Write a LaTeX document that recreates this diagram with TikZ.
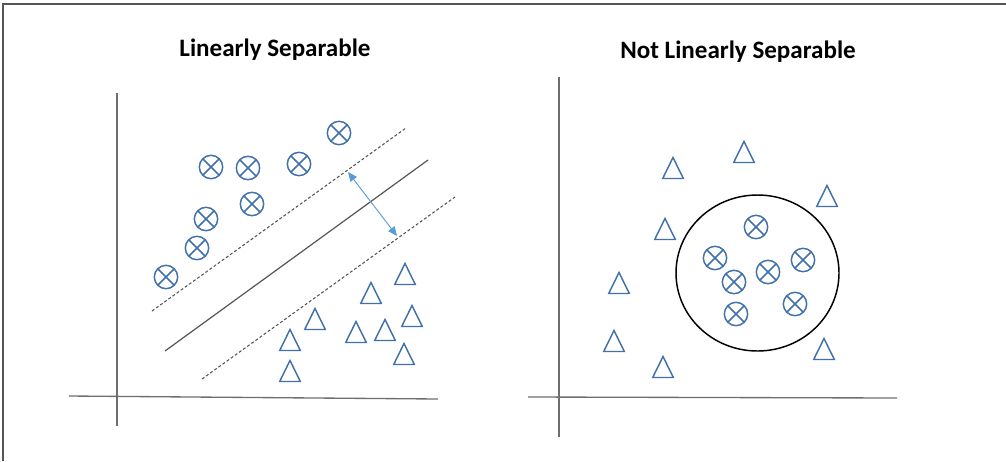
\documentclass[tikz,border=0pt]{standalone}
\usepackage{fontspec}
\setmainfont{Carlito}
\usetikzlibrary{arrows.meta,shapes.geometric}
\definecolor{symblue}{RGB}{65,113,170}
\definecolor{arrblue}{RGB}{91,155,213}
\definecolor{axisgray}{RGB}{110,110,110}
\definecolor{sepgray}{RGB}{85,85,85}
\tikzset{
  xc/.style={circle, draw=symblue, line width=1.1pt, minimum size=17.5pt, inner sep=0pt,
    path picture={\draw[symblue, line width=1.1pt]
      (path picture bounding box.north east) -- (path picture bounding box.south west)
      (path picture bounding box.north west) -- (path picture bounding box.south east);}},
  tri/.pic={\draw[symblue, line width=1.1pt, line join=miter] (0,-10.5) -- (10.3,10.5) -- (-10.3,10.5) -- cycle;},
  axisline/.style={axisgray, line width=1pt},
  sepline/.style={sepgray, line width=0.9pt},
  marginline/.style={sepgray, line width=0.8pt, dash pattern=on 2.2pt off 1.6pt},
  title/.style={font=\bfseries\fontsize{18.8pt}{22pt}\selectfont, inner sep=0pt}
}
\begin{document}
\begin{tikzpicture}[x=0.75pt, y=-0.75pt]
\useasboundingbox (0,0) rectangle (1006,461);
% frame
\draw[sepgray, line width=1.1pt] (1006,4) -- (3,4) -- (3,461);
% titles
\node[title] (t1) at (275,50) {Linearly Separable};
\node[title] (t2) at (738,52) {Not Linearly Separable};
% left axes
\coordinate (ly0) at (117,93);  \coordinate (ly1) at (117,426);
\coordinate (lx0) at (69,396);  \coordinate (lx1) at (438,399);
\draw[axisline] (ly0) -- (ly1);
\draw[axisline] (lx0) -- (lx1);
% separator and margins
\coordinate (s0) at (165,351); \coordinate (s1) at (428,160);
\coordinate (u0) at (152,311); \coordinate (u1) at (406,128);
\coordinate (d0) at (202,379); \coordinate (d1) at (455,197);
\draw[sepline] (s0) -- (s1);
\draw[marginline] (u0) -- (u1);
\draw[marginline] (d0) -- (d1);
\coordinate (a0) at (348,172); \coordinate (a1) at (397,236);
\draw[arrblue, line width=0.7pt, {Triangle[length=7pt,width=6pt]}-{Triangle[length=7pt,width=6pt]}] (a0) -- (a1);
% left circles
\node[xc] (c1) at (166,277) {};
\node[xc] (c2) at (197,248) {};
\node[xc] (c3) at (206,219) {};
\node[xc] (c4) at (211,167) {};
\node[xc] (c5) at (248,168) {};
\node[xc] (c6) at (252,204) {};
\node[xc] (c7) at (299,164) {};
\node[xc] (c8) at (339,133) {};
% left triangles
\pic (tA) at (405,274) {tri};
\pic (tB) at (371,293) {tri};
\pic (tC) at (412,316) {tri};
\pic (tD) at (315,319) {tri};
\pic (tE) at (356,332) {tri};
\pic (tF) at (385,330) {tri};
\pic (tG) at (290,340) {tri};
\pic (tH) at (404,354) {tri};
\pic (tI) at (290,371) {tri};
% right axes
\coordinate (ry0) at (559,77);  \coordinate (ry1) at (559,437);
\coordinate (rx0) at (528,397); \coordinate (rx1) at (897,398);
\draw[axisline] (ry0) -- (ry1);
\draw[axisline] (rx0) -- (rx1);
% boundary
\node[draw=black, line width=1.1pt, ellipse, minimum width=122.25pt, minimum height=117pt, inner sep=0pt] (ring) at (757.5,273) {};
% right circles
\node[xc] (d1c) at (756,227) {};
\node[xc] (d2c) at (715,258) {};
\node[xc] (d3c) at (803,260) {};
\node[xc] (d4c) at (768,272) {};
\node[xc] (d5c) at (734,282) {};
\node[xc] (d6c) at (736,314) {};
\node[xc] (d7c) at (795,304) {};
% right triangles
\pic (rA) at (744,152) {tri};
\pic (rB) at (673,168) {tri};
\pic (rC) at (827,196) {tri};
\pic (rD) at (665,229) {tri};
\pic (rE) at (619,283) {tri};
\pic (rF) at (614,341) {tri};
\pic (rG) at (663,367) {tri};
\pic (rH) at (824,349) {tri};
\end{tikzpicture}
\end{document}
